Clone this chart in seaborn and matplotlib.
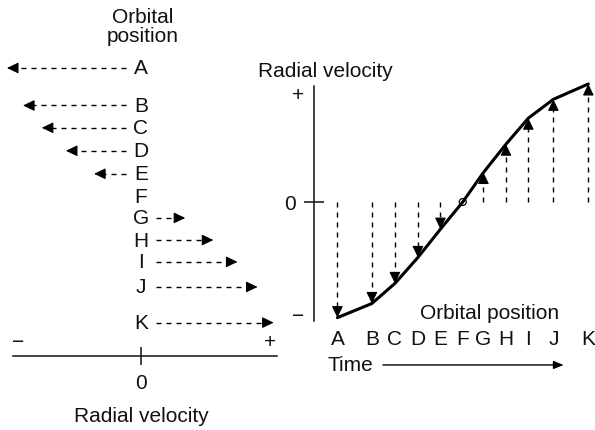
import matplotlib
matplotlib.use("Agg")
import matplotlib.pyplot as plt
import seaborn as sns
import numpy as np
import pandas as pd

# orbital positions
positions = ["A", "B", "C", "D", "E", "F", "G", "H", "I", "J", "K"]

# left panel: radial velocity arrow for each orbital position (row down the page)
arrow_velocity = [-1.0, -0.88, -0.74, -0.56, -0.35, 0.0, 0.33, 0.54, 0.72, 0.87, 0.99]
row_pos = [0, 1.63, 2.6, 3.6, 4.6, 5.57, 6.52, 7.48, 8.43, 9.52, 11.07]

# right panel: radial velocity curve against time
time_pos = [0, 1.5, 2.5, 3.5, 4.48, 5.45, 6.35, 7.33, 8.3, 9.39, 10.91]
curve_velocity = [-0.98, -0.86, -0.69, -0.47, -0.23, 0.0, 0.25, 0.49, 0.71, 0.87, 1.0]


def main():
    sns.set_style("white")
    plt.rcParams["font.family"] = ["Liberation Sans", "DejaVu Sans"]
    plt.rcParams["text.color"] = "#111111"
    plt.rcParams["xtick.color"] = "#111111"
    plt.rcParams["ytick.color"] = "#111111"
    plt.rcParams["axes.edgecolor"] = "#111111"
    fs = 15
    dash = (0, (3.6, 3.6))
    head = dict(arrowstyle="-|>,head_length=0.5,head_width=0.24", color="black",
                lw=0.8, mutation_scale=14, shrinkA=0, shrinkB=0)

    fig = plt.figure(figsize=(5.95, 4.31), dpi=100)

    # ------------------------------------------------------------------
    # left panel: arrows
    # ------------------------------------------------------------------
    ax = fig.add_axes([0, 0, 1, 1])
    ax.set_xlim(-1.052, 3.388)
    ax.set_ylim(15.74, -3.0)
    ax.patch.set_visible(False)

    gap = 0.11
    for lab, v, y in zip(positions, arrow_velocity, row_pos):
        ax.text(0, y, lab, fontsize=fs, ha="center", va="center")
        if v == 0:
            continue
        s = np.sign(v)
        ax.plot([s * gap, v - s * 0.03], [y, y], color="black", lw=1, ls=dash)
        ax.annotate("", xy=(v, y), xytext=(-s * 7.5, 0), textcoords="offset points",
                    arrowprops=head)

    for side in ["top", "right", "left"]:
        ax.spines[side].set_visible(False)
    ax.spines["bottom"].set_position(("data", 12.51))
    ax.spines["bottom"].set_bounds(-0.955, 1.015)
    ax.spines["bottom"].set_linewidth(1.1)
    ax.set_yticks([])
    ax.set_xticks([0], ["0"], fontsize=fs)
    ax.tick_params(axis="x", bottom=True, direction="inout", length=13, width=1.1, pad=6)
    ax.text(-0.918, 11.91, "\u2212", fontsize=fs, ha="center", va="center")
    ax.text(0.963, 11.91, "+", fontsize=fs, ha="center", va="center")
    ax.text(0.0, 15.12, "Radial velocity", fontsize=fs, ha="center", va="center")
    ax.text(0.015, -1.83, "Orbital\nposition", fontsize=fs, ha="center", va="center",
            multialignment="center", linespacing=1.0)

    # ------------------------------------------------------------------
    # right panel: velocity curve
    # ------------------------------------------------------------------
    ax2 = fig.add_axes([0, 0, 1, 1])
    ax2.set_xlim(-14.67, 11.2)
    ax2.set_ylim(-1.932, 1.72)
    ax2.patch.set_visible(False)

    for t, v in zip(time_pos, curve_velocity):
        if v == 0:
            continue
        s = np.sign(v)
        ax2.plot([t, t], [0, v - s * 0.03], color="black", lw=1, ls=dash)

    df = pd.DataFrame({"time": time_pos, "velocity": curve_velocity})
    sns.lineplot(data=df, x="time", y="velocity", sort=False, estimator=None,
                 color="black", lw=2.2, ax=ax2)

    for t, v in zip(time_pos, curve_velocity):
        if v == 0:
            continue
        s = np.sign(v)
        ax2.annotate("", xy=(t, v), xytext=(0, -s * 7.5), textcoords="offset points",
                     arrowprops=head)

    zero = df[df["velocity"] == 0]
    sns.scatterplot(data=zero, x="time", y="velocity", marker="o", s=25,
                    facecolor="none", edgecolor="black", linewidth=0.9, ax=ax2, zorder=5)

    for side in ["top", "right", "bottom"]:
        ax2.spines[side].set_visible(False)
    ax2.spines["left"].set_position(("data", -1.01))
    ax2.spines["left"].set_bounds(-1.008, 0.986)
    ax2.spines["left"].set_linewidth(1.1)
    ax2.set_xticks([])
    ax2.set_yticks([0], ["0"], fontsize=fs)
    ax2.tick_params(axis="y", left=True, direction="inout", length=14.4, width=1.1, pad=5.8)
    ax2.set_xlabel("")
    ax2.set_ylabel("")

    ax2.text(-1.71, 0.915, "+", fontsize=fs, ha="center", va="center")
    ax2.text(-1.71, -0.958, "\u2212", fontsize=fs, ha="center", va="center")
    ax2.text(-0.51, 1.114, "Radial velocity", fontsize=fs, ha="center", va="center")

    for lab, t in zip(positions, time_pos):
        ax2.text(t, -1.155, lab, fontsize=fs, ha="center", va="center")
    ax2.text(6.61, -0.935, "Orbital position", fontsize=fs, ha="center", va="center")
    ax2.text(0.55, -1.373, "Time", fontsize=fs, ha="center", va="center")
    ax2.annotate("", xy=(9.84, -1.381), xytext=(1.98, -1.381),
                 arrowprops=dict(arrowstyle="-|>,head_length=0.5,head_width=0.2",
                                 color="black", lw=1, mutation_scale=12,
                                 shrinkA=0, shrinkB=0))

    fig.savefig("out.png", dpi=100)
    plt.close(fig)


if __name__ == "__main__":
    main()
